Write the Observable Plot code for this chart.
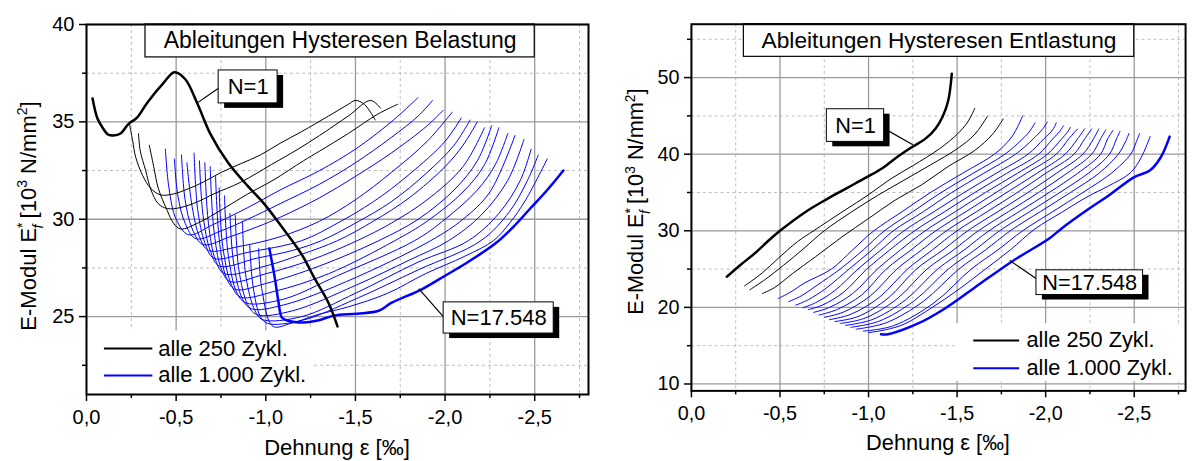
<!DOCTYPE html>
<html><head><meta charset="utf-8">
<script src="https://cdn.jsdelivr.net/npm/d3@7"></script>
<script src="https://cdn.jsdelivr.net/npm/@observablehq/plot@0.6"></script>
<style>
html,body{margin:0;padding:0;background:#fff;overflow:hidden}
#wrap{position:relative;width:1193px;height:461px;overflow:hidden}
#left{position:absolute;left:0;top:0}
#right{position:absolute;left:600px;top:0}
</style></head><body><div id="wrap"><div id="left"></div><div id="right"></div></div>
<script>
// ---------- texts & ticks ----------
const xTitle = "Dehnung ε [‰]";
const belTitle = "Ableitungen Hysteresen Belastung";
const entTitle = "Ableitungen Hysteresen Entlastung";
const legendLabels = ["alle 250 Zykl.", "alle 1.000 Zykl."];
const firstLabel = "N=1";
const lastLabel = "N=17.548";
const xMajor = [0, -0.5, -1, -1.5, -2, -2.5];
const xMinor = [-0.25, -0.75, -1.25, -1.75, -2.25, -2.75];
const belYMajor = [25, 30, 35, 40];
const belYMinor = [22.5, 27.5, 32.5, 37.5];
const entYMajor = [10, 20, 30, 40, 50];
const entYMinor = [15, 25, 35, 45, 55];

// ---------- Belastung (loading) curves [strain, modulus] ----------
const belN1 = [[-0.034,36.2],[-0.06,35.2],[-0.09,34.7],[-0.12,34.35],[-0.15,34.3],[-0.19,34.4],[-0.235,34.9],[-0.28,35.2],[-0.34,36.0],[-0.43,37.0],[-0.49,37.55],[-0.55,37.2],[-0.62,35.9],[-0.69,34.4],[-0.79,32.9],[-0.90,31.7],[-0.99,30.8],[-1.09,29.6],[-1.2,28.2],[-1.27,27.0],[-1.35,25.7],[-1.40,24.5]];
const bel250 = [[-0.24,34.9],[-0.257,34.05],[-0.274,33.2],[-0.313,32.25],[-0.357,31.6],[-0.413,31.25],[-0.486,31.3],[-0.564,31.55],[-0.65,31.9],[-0.75,32.4],[-0.86,32.85],[-0.97,33.3],[-1.08,33.9],[-1.2,34.5],[-1.35,35.3],[-1.46,35.9],[-1.50,36.1],[-1.55,35.9],[-1.61,35.1]];
const bel500 = [[-0.29,34.4],[-0.30,33.5],[-0.33,32.5],[-0.36,31.5],[-0.40,30.8],[-0.45,30.55],[-0.525,30.6],[-0.62,30.9],[-0.71,31.3],[-0.86,31.9],[-1.03,32.8],[-1.18,33.6],[-1.30,34.3],[-1.46,35.3],[-1.585,36.1],[-1.64,35.7]];
const bel750 = [[-0.35,33.8],[-0.375,32.7],[-0.40,31.6],[-0.45,30.45],[-0.485,29.8],[-0.525,29.5],[-0.62,29.8],[-0.765,30.55],[-0.9,31.3],[-1.04,32.0],[-1.21,33.0],[-1.30,33.5],[-1.46,34.4],[-1.625,35.4],[-1.735,35.9]];
const belBlue = [
 [[-0.44,33.6],[-0.46,31.6],[-0.50,30.0],[-0.57,29.2],[-0.7,29.7],[-0.9,30.6],[-1.08,31.5],[-1.3,32.5],[-1.5,33.6],[-1.7,35.0],[-1.85,36.25]],
 [[-0.49,33.1],[-0.51,31.2],[-0.55,29.8],[-0.61,29.0],[-0.75,29.4],[-0.9,30.0],[-1.08,30.8],[-1.3,31.8],[-1.5,32.9],[-1.7,34.2],[-1.85,35.3],[-1.93,36.1]],
 [[-0.53,33.3],[-0.55,31.0],[-0.59,29.5],[-0.65,28.7],[-0.8,29.1],[-0.95,29.6],[-1.08,30.1],[-1.3,31.1],[-1.5,32.2],[-1.7,33.4],[-1.9,34.8],[-1.99,35.6]],
 [[-0.56,32.9],[-0.59,30.6],[-0.63,29.1],[-0.68,28.4],[-0.85,28.6],[-1.08,29.1],[-1.3,29.9],[-1.5,31.0],[-1.7,32.4],[-1.9,34.0],[-2.04,35.5]],
 [[-0.60,33.4],[-0.62,30.5],[-0.66,28.8],[-0.71,28.0],[-0.9,28.3],[-1.2,28.9],[-1.4,29.8],[-1.6,30.9],[-1.8,32.3],[-2.0,34.0],[-2.09,35.2]],
 [[-0.63,33.0],[-0.65,30.2],[-0.69,28.4],[-0.74,27.6],[-0.95,28.0],[-1.15,28.4],[-1.31,28.9],[-1.5,29.8],[-1.7,30.9],[-1.9,32.4],[-2.05,33.8],[-2.14,35.1]],
 [[-0.66,32.9],[-0.68,29.8],[-0.72,27.9],[-0.77,27.2],[-1.0,27.6],[-1.2,28.2],[-1.40,28.9],[-1.6,29.9],[-1.8,31.1],[-2.0,32.7],[-2.1,33.8],[-2.18,35.0]],
 [[-0.69,32.7],[-0.71,29.5],[-0.75,27.5],[-0.80,26.8],[-1.0,27.2],[-1.25,27.9],[-1.51,28.9],[-1.7,29.8],[-1.9,31.0],[-2.1,32.7],[-2.22,34.7]],
 [[-0.72,32.2],[-0.74,29.0],[-0.78,27.0],[-0.83,26.4],[-1.0,26.7],[-1.3,27.6],[-1.63,28.9],[-1.85,30.0],[-2.05,31.5],[-2.18,33.0],[-2.26,34.8]],
 [[-0.74,31.6],[-0.76,28.6],[-0.81,26.6],[-0.86,26.0],[-1.05,26.3],[-1.35,27.2],[-1.72,28.9],[-1.9,29.9],[-2.1,31.4],[-2.22,32.8],[-2.30,34.7]],
 [[-0.77,31.2],[-0.79,28.2],[-0.84,26.2],[-0.89,25.7],[-1.1,25.9],[-1.4,27.1],[-1.83,28.9],[-2.0,30.0],[-2.18,31.5],[-2.28,32.8],[-2.35,34.4]],
 [[-0.80,30.3],[-0.82,27.8],[-0.87,25.9],[-0.92,25.4],[-1.1,25.6],[-1.45,26.8],[-1.92,28.9],[-2.1,30.0],[-2.25,31.4],[-2.39,34.3]],
 [[-0.83,30.2],[-0.85,27.4],[-0.90,25.6],[-0.95,25.1],[-1.15,25.3],[-1.5,26.6],[-1.8,27.9],[-2.02,28.9],[-2.2,30.2],[-2.35,32.0],[-2.44,34.1]],
 [[-0.87,29.9],[-0.89,27.0],[-0.94,25.3],[-0.98,24.85],[-1.2,25.0],[-1.5,26.2],[-1.85,27.8],[-2.13,28.9],[-2.3,30.3],[-2.42,32.0],[-2.48,33.6]],
 [[-0.91,28.7],[-0.93,26.5],[-0.97,25.0],[-1.01,24.65],[-1.2,24.8],[-1.5,25.9],[-1.85,27.4],[-2.20,28.9],[-2.36,30.4],[-2.46,32.0],[-2.52,33.3]],
 [[-0.96,28.5],[-0.98,26.3],[-1.04,24.5],[-1.14,24.65],[-1.29,25.1],[-1.46,25.5],[-1.68,26.2],[-1.89,27.2],[-2.11,28.1],[-2.27,28.9],[-2.36,29.8],[-2.45,31.0],[-2.57,33.1]]
];
const belLast = [[-1.02,28.5],[-1.05,27.0],[-1.07,25.8],[-1.09,24.95],[-1.12,24.8],[-1.21,24.7],[-1.29,24.8],[-1.38,25.05],[-1.51,25.15],[-1.63,25.3],[-1.70,25.7],[-1.87,26.4],[-2.0,27.1],[-2.11,27.7],[-2.28,28.75],[-2.38,29.6],[-2.47,30.5],[-2.57,31.5],[-2.66,32.5]];

// ---------- Entlastung (unloading) curves ----------
const entN1 = [[-0.20,24.0],[-0.28,25.6],[-0.36,27.1],[-0.43,28.6],[-0.50,30.0],[-0.64,32.4],[-0.77,34.2],[-0.88,35.6],[-0.99,37.0],[-1.08,38.2],[-1.16,39.6],[-1.25,41.0],[-1.32,42.0],[-1.38,43.4],[-1.42,45.0],[-1.45,47.0],[-1.47,50.5]];
const ent250 = [[-0.30,22.8],[-0.40,24.5],[-0.49,26.4],[-0.60,28.6],[-0.69,30.0],[-0.86,32.6],[-1.0,34.7],[-1.12,36.7],[-1.25,38.5],[-1.40,40.7],[-1.50,42.6],[-1.56,44.2],[-1.60,46.0]];
const ent500 = [[-0.33,22.3],[-0.42,23.7],[-0.52,25.5],[-0.63,27.6],[-0.75,30.0],[-0.90,32.4],[-1.05,34.6],[-1.20,36.6],[-1.35,38.6],[-1.50,40.7],[-1.60,42.6],[-1.67,44.9]];
const ent750 = [[-0.40,21.8],[-0.47,22.6],[-0.57,24.4],[-0.70,26.6],[-0.85,29.2],[-1.0,31.6],[-1.15,34.0],[-1.30,36.0],[-1.45,38.4],[-1.60,40.5],[-1.70,42.6],[-1.76,44.6]];
const entBlue = [
 [[-0.49,21.15],[-0.56,22.0],[-0.64,23.2],[-0.79,25.0],[-0.91,27.5],[-1.03,30.0],[-1.19,32.5],[-1.35,35.0],[-1.53,37.5],[-1.71,40.0],[-1.80,42.0],[-1.84,43.5],[-1.87,45.0]],
 [[-0.55,20.75],[-0.62,21.5],[-0.71,22.9],[-0.84,25.0],[-0.97,27.5],[-1.09,30.0],[-1.25,32.5],[-1.41,35.0],[-1.59,37.5],[-1.77,40.0],[-1.87,42.0],[-1.91,43.0],[-1.94,44.1]],
 [[-0.59,20.3],[-0.66,21.0],[-0.76,22.5],[-0.89,25.0],[-1.02,27.5],[-1.14,30.0],[-1.31,32.5],[-1.47,35.0],[-1.65,37.5],[-1.83,40.0],[-1.93,42.0],[-1.98,43.2],[-2.01,44.2]],
 [[-0.63,19.95],[-0.70,20.6],[-0.81,22.2],[-0.94,25.0],[-1.07,27.5],[-1.20,30.0],[-1.37,32.5],[-1.54,35.0],[-1.72,37.5],[-1.90,40.0],[-1.99,42.0],[-2.04,43.2],[-2.06,44.1]],
 [[-0.66,19.7],[-0.74,20.3],[-0.86,22.0],[-0.99,25.0],[-1.12,27.5],[-1.26,30.0],[-1.43,32.5],[-1.60,35.0],[-1.78,37.5],[-1.96,40.0],[-2.04,42.0],[-2.08,43.0],[-2.10,43.7]],
 [[-0.69,19.35],[-0.78,20.0],[-0.91,21.8],[-1.05,25.0],[-1.18,27.5],[-1.32,30.0],[-1.49,32.5],[-1.66,35.0],[-1.84,37.5],[-2.01,40.0],[-2.09,42.0],[-2.12,42.8],[-2.14,43.5]],
 [[-0.72,19.0],[-0.82,19.7],[-0.96,21.6],[-1.10,25.0],[-1.24,27.5],[-1.38,30.0],[-1.55,32.5],[-1.72,35.0],[-1.89,37.5],[-2.06,40.0],[-2.13,42.0],[-2.18,43.3]],
 [[-0.75,18.7],[-0.86,19.4],[-1.01,21.5],[-1.16,25.0],[-1.30,27.5],[-1.44,30.0],[-1.61,32.5],[-1.78,35.0],[-1.95,37.5],[-2.11,40.0],[-2.18,42.0],[-2.22,43.3]],
 [[-0.78,18.4],[-0.90,19.1],[-1.06,21.3],[-1.22,25.0],[-1.36,27.5],[-1.50,30.0],[-1.67,32.5],[-1.84,35.0],[-2.00,37.5],[-2.16,40.0],[-2.22,42.0],[-2.26,43.3]],
 [[-0.81,18.15],[-0.94,18.8],[-1.11,21.2],[-1.27,25.0],[-1.42,27.5],[-1.56,30.0],[-1.73,32.5],[-1.90,35.0],[-2.06,37.5],[-2.21,40.0],[-2.27,42.0],[-2.30,43.3]],
 [[-0.84,17.9],[-0.98,18.6],[-1.16,21.1],[-1.33,25.0],[-1.48,27.5],[-1.62,30.0],[-1.79,32.5],[-1.96,35.0],[-2.12,37.5],[-2.26,40.0],[-2.31,42.0],[-2.34,43.2]],
 [[-0.87,17.65],[-1.02,18.4],[-1.21,21.0],[-1.39,25.0],[-1.54,27.5],[-1.68,30.0],[-1.85,32.5],[-2.02,35.0],[-2.18,37.5],[-2.31,40.0],[-2.35,42.0],[-2.38,43.1]],
 [[-0.90,17.4],[-1.06,18.2],[-1.26,20.9],[-1.45,25.0],[-1.60,27.5],[-1.74,30.0],[-1.91,32.5],[-2.08,35.0],[-2.24,37.5],[-2.36,40.0],[-2.40,42.0],[-2.42,43.0]],
 [[-0.93,17.15],[-1.10,18.0],[-1.31,20.8],[-1.51,25.0],[-1.66,27.5],[-1.80,30.0],[-1.97,32.5],[-2.14,35.0],[-2.30,37.5],[-2.41,40.0],[-2.45,41.6],[-2.47,42.7]],
 [[-0.97,16.9],[-1.14,17.6],[-1.37,20.6],[-1.58,25.0],[-1.73,27.5],[-1.87,30.0],[-2.04,32.5],[-2.21,35.0],[-2.37,37.5],[-2.48,40.0],[-2.51,41.5],[-2.53,42.7]],
 [[-1.00,16.7],[-1.10,17.1],[-1.20,17.8],[-1.36,20.0],[-1.50,22.2],[-1.66,25.0],[-1.80,27.5],[-1.94,30.25],[-2.09,32.4],[-2.24,34.5],[-2.35,35.8],[-2.48,37.6],[-2.54,39.6],[-2.59,42.3]]
];
const entLast = [[-1.07,16.5],[-1.11,16.5],[-1.28,17.9],[-1.42,19.7],[-1.60,22.6],[-1.81,26.0],[-2.02,29.0],[-2.09,30.3],[-2.24,32.8],[-2.35,34.5],[-2.50,37.0],[-2.59,37.9],[-2.65,39.6],[-2.70,42.3]];

// ---------- helpers ----------
const toRows = (curves, kind) => curves.flatMap((c, i) => c.map(([x, y]) => ({x, y, id: kind + i})));
const fmt = d => d.toFixed(1).replace(".", ",");
const FONT = "Liberation Sans, Arial, Helvetica, sans-serif";
const BLUE = "#0000ff";

function panel(cfg) {
  const thinBlue = toRows(cfg.blue, "b");
  const thinBlack = toRows(cfg.black, "k");
  const firstC = toRows([cfg.first], "f");
  const lastC = toRows([cfg.last], "l");
  const ann = cfg.ann;
  const lineOpts = {x: "x", y: "y", z: "id", curve: "catmull-rom"};
  const svg = Plot.plot({
    width: cfg.width, height: cfg.height,
    marginTop: cfg.m[0], marginRight: cfg.m[1], marginBottom: cfg.m[2], marginLeft: cfg.m[3],
    style: {fontFamily: FONT, fontSize: "20px", background: "white", color: "black"},
    x: {domain: cfg.xDomain, axis: null},
    y: {domain: cfg.yDomain, axis: null},
    marks: [
      Plot.ruleX(xMinor, {stroke: "#bdbdbd", strokeDasharray: "3,3"}),
      Plot.ruleY(cfg.yMinor, {stroke: "#bdbdbd", strokeDasharray: "3,3"}),
      Plot.ruleX(xMajor, {stroke: "#9a9a9a", strokeWidth: 1.3}),
      Plot.ruleY(cfg.yMajor, {stroke: "#9a9a9a", strokeWidth: 1.3}),
      Plot.rect([cfg.legendBg], {x1: "x1", x2: "x2", y1: "y1", y2: "y2", fill: "white"}),
      Plot.line(thinBlue, {...lineOpts, stroke: BLUE, strokeWidth: 1}),
      Plot.line(thinBlack, {...lineOpts, stroke: "black", strokeWidth: 1}),
      Plot.line(lastC, {...lineOpts, stroke: BLUE, strokeWidth: 2.5}),
      Plot.line(firstC, {...lineOpts, stroke: "black", strokeWidth: 2.5}),
      // title box
      Plot.rect([cfg.titleBox], {x1: "x1", x2: "x2", y1: "y1", y2: "y2", fill: "white", stroke: "black", strokeWidth: 1.2}),
      Plot.text([cfg.title], {x: (cfg.titleBox.x1 + cfg.titleBox.x2) / 2, y: (cfg.titleBox.y1 + cfg.titleBox.y2) / 2, text: d => d, fontSize: 23, lineAnchor: "middle", fill: "black"}),
      // annotation leaders, shadows, boxes
      Plot.link(ann, {x1: d => d.from[0], y1: d => d.from[1], x2: d => d.to[0], y2: d => d.to[1], stroke: "black", strokeWidth: 1.2}),
      Plot.rect(ann, {x1: "x1", x2: "x2", y1: "y1", y2: "y2", fill: "black", dx: 6, dy: 5}),
      Plot.rect(ann, {x1: "x1", x2: "x2", y1: "y1", y2: "y2", fill: "white", stroke: "black", strokeWidth: 1}),
      Plot.text(ann, {x: d => (d.x1 + d.x2) / 2, y: d => (d.y1 + d.y2) / 2, text: "text", fontSize: 22, lineAnchor: "middle", fill: "black"}),
      // legend
      Plot.ruleY([cfg.legend.ys[0]], {x1: cfg.legend.x1, x2: cfg.legend.x2, stroke: "black", strokeWidth: 2}),
      Plot.ruleY([cfg.legend.ys[1]], {x1: cfg.legend.x1, x2: cfg.legend.x2, stroke: BLUE, strokeWidth: 2}),
      Plot.text(legendLabels, {x: cfg.legend.textX, y: (d, i) => cfg.legend.ys[i], text: d => d, textAnchor: "start", fontSize: 22, lineAnchor: "middle", fill: "black"}),
      // axes
      Plot.axisX({ticks: xMajor, tickFormat: fmt, tickSize: 7, tickPadding: 8, fontSize: 20, label: null, strokeWidth: 1.5}),
      Plot.axisX({ticks: xMinor, tickFormat: () => "", tickSize: 4, label: null, strokeWidth: 1.5}),
      Plot.axisY({ticks: cfg.yMajor, tickSize: 7, tickPadding: 5, fontSize: 20, label: null, strokeWidth: 1.5}),
      Plot.axisY({ticks: cfg.yMinor, tickFormat: () => "", tickSize: 4, label: null, strokeWidth: 1.5}),
      Plot.frame({stroke: "black", strokeWidth: 2})
    ]
  });
  const s = d3.select(svg);
  // y axis title with superscript/subscript
  const yt = s.append("text")
    .attr("transform", `translate(${cfg.ylab[0]},${cfg.ylab[1]}) rotate(-90)`)
    .attr("text-anchor", "middle").attr("font-size", 22).attr("font-family", FONT).attr("fill", "black");
  yt.append("tspan").text("E-Modul E");
  yt.append("tspan").attr("font-size", 14).attr("dy", -9).text("*");
  yt.append("tspan").attr("font-size", 14).attr("font-style", "italic").attr("dx", -6).attr("dy", 16).text("f");
  yt.append("tspan").attr("dy", -7).text(" [10");
  yt.append("tspan").attr("font-size", 14).attr("dy", -9).text("3");
  yt.append("tspan").attr("dy", 9).text(" N/mm");
  yt.append("tspan").attr("font-size", 14).attr("dy", -9).text("2");
  yt.append("tspan").attr("dy", 9).text("]");
  s.append("text").attr("x", cfg.xlab[0]).attr("y", cfg.xlab[1])
    .attr("text-anchor", "middle").attr("font-size", 22).attr("font-family", FONT).attr("fill", "black")
    .text(xTitle);
  return svg;
}

const belCfg = {
  width: 600, height: 461, m: [24, 12, 67, 86],
  xDomain: [0, -2.8], yDomain: [21, 40], yMajor: belYMajor, yMinor: belYMinor,
  blue: belBlue, black: [bel250, bel500, bel750], first: belN1, last: belLast,
  title: belTitle,
  titleBox: {x1: -0.329, x2: -2.5, y1: 38.31, y2: 40},
  legendBg: {x1: 0, x2: -1.26, y1: 21, y2: 24.27},
  legend: {x1: -0.10, x2: -0.37, ys: [23.36, 21.98], textX: -0.40},
  ann: [
    {text: firstLabel, x1: -0.737, x2: -1.066, y1: 35.95, y2: 37.64, from: [-0.75, 36.82], to: [-0.614, 35.95]},
    {text: lastLabel, x1: -1.992, x2: -2.606, y1: 24.13, y2: 25.73, from: [-2.0, 24.90], to: [-1.853, 26.44]}
  ],
  ylab: [36, 216], xlab: [337, 455]
};
const entCfg = {
  width: 600, height: 461, m: [24, 8, 66, 92],
  xDomain: [0, -2.79], yDomain: [9.1, 56.97], yMajor: entYMajor, yMinor: entYMinor,
  blue: entBlue, black: [ent250, ent500, ent750], first: entN1, last: entLast,
  title: entTitle,
  titleBox: {x1: -0.296, x2: -2.5, y1: 52.71, y2: 56.97},
  legendBg: {x1: -1.496, x2: -2.79, y1: 10.3, y2: 17.87},
  legend: {x1: -1.594, x2: -1.853, ys: [15.68, 12.06], textX: -1.892},
  ann: [
    {text: firstLabel, x1: -0.7645, x2: -1.088, y1: 41.61, y2: 45.87, from: [-1.07, 43.6], to: [-1.25, 41.23]},
    {text: lastLabel, x1: -1.948, x2: -2.550, y1: 21.61, y2: 24.84, from: [-1.96, 23.55], to: [-1.797, 26.13]}
  ],
  ylab: [44, 204], xlab: [342, 455]
};

document.getElementById("left").appendChild(panel(belCfg));
document.getElementById("right").appendChild(panel(entCfg));
</script></body></html>
